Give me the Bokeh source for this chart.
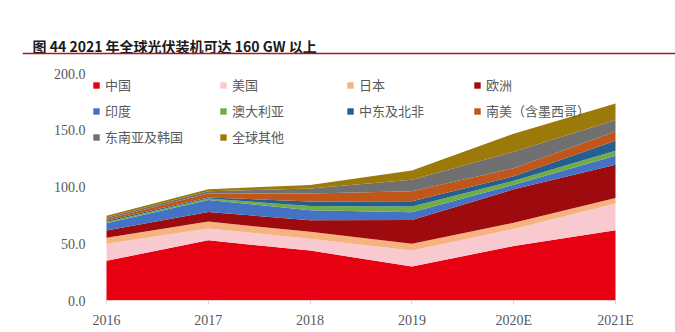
from bokeh.plotting import figure
from bokeh.models import (ColumnDataSource, Range1d, FixedTicker, NumeralTickFormatter,
                          Legend, LegendItem)
from bokeh.core.properties import value
from bokeh.embed import file_html
from bokeh.resources import INLINE

title_text = "图 44 2021 年全球光伏装机可达 160 GW 以上"
years = ["2016", "2017", "2018", "2019", "2020E", "2021E"]
series_names = ["中国", "美国", "日本", "欧洲", "印度", "澳大利亚",
                "中东及北非", "南美（含墨西哥）", "东南亚及韩国", "全球其他"]
china = [35.0, 53.0, 44.0, 30.0, 48.0, 62.0]
usa = [15.0, 10.5, 10.5, 14.0, 15.0, 23.5]
japan = [5.2, 6.0, 6.0, 6.0, 5.5, 4.7]
europe = [6.5, 8.5, 10.3, 21.0, 29.5, 29.4]
india = [6.3, 10.5, 8.8, 6.8, 4.0, 8.0]
australia = [1.2, 1.3, 3.7, 5.0, 3.5, 4.4]
mena = [1.0, 1.0, 4.0, 4.7, 4.0, 8.8]
south_america = [1.5, 3.5, 7.0, 8.8, 7.0, 8.2]
sea_korea = [1.5, 2.0, 4.4, 10.0, 14.5, 10.0]
others = [1.5, 1.8, 3.0, 8.2, 16.0, 14.6]
colors = ["#E60012", "#F9C9D0", "#F6B27F", "#9E0B0F", "#4472C4", "#70AD47",
          "#255E91", "#C0561A", "#707070", "#9C7A0A"]
y_ticks = [0, 50, 100, 150, 200]

keys = ["s%d" % i for i in range(10)]
data = dict(x=list(range(len(years))))
for k, arr in zip(keys, [china, usa, japan, europe, india, australia, mena,
                         south_america, sea_korea, others]):
    data[k] = arr
src = ColumnDataSource(data)

# layout geometry (pixels)
W, H = 675, 332
FL, FR, FT, FB = 22, 675, 0, 300          # frame edges
X0PX, X1PX = 106, 615                      # first / last category
Y0PX, Y200PX = 300, 73                     # value 0 / value 200
n = len(years) - 1
xs = (X1PX - X0PX) / n
ys = (Y0PX - Y200PX) / 200.0
x_start = -(X0PX - FL) / xs
x_end = n + (FR - X1PX) / xs
y_end = (Y0PX - FT) / ys


def px_x(v):
    return (v - X0PX) / xs


def px_y(v):
    return (Y0PX - v) / ys


p = figure(width=W, height=H, x_range=Range1d(x_start, x_end),
           y_range=Range1d(0, y_end), output_backend="svg", toolbar_location=None,
           min_border_left=FL, min_border_right=0, min_border_top=FT,
           min_border_bottom=H - FB)
p.outline_line_color = None
p.grid.visible = False

# title and rule
p.text(x=[px_x(32)], y=[px_y(45)], text=[title_text], text_font=value("Noto Sans CJK SC"),
       text_font_style="bold", text_font_size="14px", text_color="#1a1a1a",
       text_baseline="alphabetic")
p.segment(x0=[px_x(22)], y0=[px_y(53)], x1=[px_x(675)], y1=[px_y(53)],
          line_color="#B01818", line_width=1.6)

rs = p.varea_stack(stackers=keys, x="x", color=colors, source=src)

# x baseline only across the categories
p.line(x=[0, n], y=[0, 0], line_color="#D9D9D9", line_width=1)

p.xaxis.ticker = FixedTicker(ticks=list(range(len(years))))
p.xaxis.major_label_overrides = {i: y for i, y in enumerate(years)}
p.xaxis.axis_line_color = None
p.xaxis.major_tick_line_color = "#D9D9D9"
p.xaxis.major_tick_out = 4
p.xaxis.major_tick_in = 0
p.xaxis.minor_tick_line_color = None
p.xaxis.major_label_standoff = 8

p.yaxis.ticker = FixedTicker(ticks=y_ticks)
p.yaxis.formatter = NumeralTickFormatter(format="0.0")
p.yaxis.axis_line_color = None
p.yaxis.major_tick_line_color = None
p.yaxis.minor_tick_line_color = None
p.yaxis.major_label_standoff = -(91 - FL)

for ax in (p.xaxis, p.yaxis):
    ax.major_label_text_font = "Liberation Serif"
    ax.major_label_text_font_size = "14px"
    ax.major_label_text_color = "#595959"

items = [LegendItem(label=nm, renderers=[r]) for nm, r in zip(series_names, rs)]
legend = Legend(items=items, location=(92 - FL, FB - 147), ncols=4,
                orientation="horizontal",
                glyph_width=8, glyph_height=8, label_standoff=5, label_width=109,
                label_height=21, spacing=5, padding=0, margin=0,
                border_line_color=None, background_fill_alpha=0,
                label_text_font="Noto Sans CJK SC", label_text_font_size="13px",
                label_text_color="#595959")
p.add_layout(legend, "center")

open("out.html", "w").write(file_html(p, INLINE))
